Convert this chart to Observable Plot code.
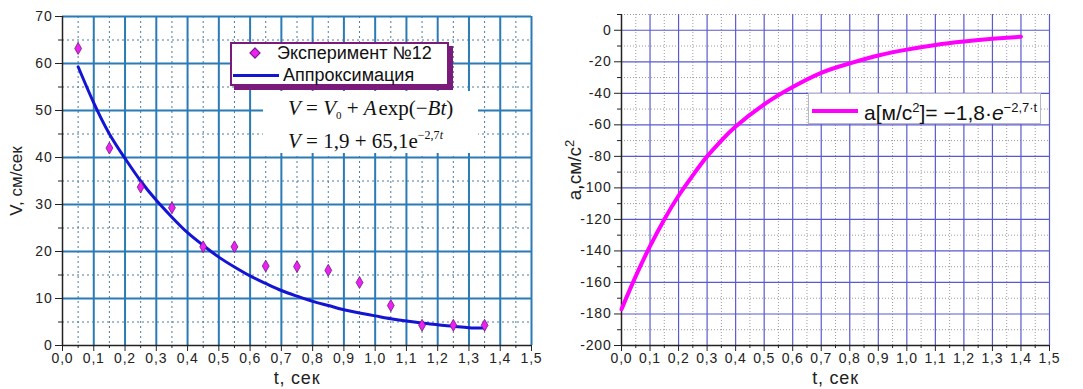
<!DOCTYPE html>
<html>
<head>
<meta charset="utf-8">
<script src="https://cdn.jsdelivr.net/npm/d3@7"></script>
<script src="https://cdn.jsdelivr.net/npm/@observablehq/plot@0.6"></script>
<style>
  html, body { margin: 0; padding: 0; background: #fff; }
  #wrap { position: relative; width: 1083px; height: 389px; display: flex; font-family: "Liberation Sans", Arial, sans-serif; }
  .ov { position: absolute; box-sizing: border-box; }
  #wrap svg text { letter-spacing: 0.8px; }
</style>
</head>
<body>
<div id="wrap">
  <div id="left"></div>
  <div id="right"></div>
</div>
<script>
// ---- Left chart data ----
const expT = [0.05, 0.15, 0.25, 0.35, 0.45, 0.55, 0.65, 0.75, 0.85, 0.95, 1.05, 1.15, 1.25, 1.35];
const expV = [63.2, 42.0, 33.7, 29.3, 21.0, 21.0, 16.9, 16.8, 16.0, 13.4, 8.5, 4.3, 4.3, 4.3];
const fitT = [0.05, 0.10, 0.15, 0.20, 0.25, 0.30, 0.35, 0.40, 0.45, 0.50, 0.55, 0.60, 0.65, 0.70, 0.75, 0.80, 0.85, 0.90, 0.95, 1.00, 1.05, 1.10, 1.15, 1.20, 1.25, 1.30, 1.35];
const fitV = [59.3, 51.6, 45.0, 39.8, 35.0, 30.9, 27.3, 24.0, 21.3, 18.8, 16.7, 14.8, 13.2, 11.7, 10.5, 9.4, 8.5, 7.6, 6.9, 6.3, 5.7, 5.2, 4.8, 4.4, 4.1, 3.8, 3.7];
const leftXMajor = [0, 0.1, 0.2, 0.3, 0.4, 0.5, 0.6, 0.7, 0.8, 0.9, 1.0, 1.1, 1.2, 1.3, 1.4, 1.5];
const leftXMinor = [0.05, 0.15, 0.25, 0.35, 0.45, 0.55, 0.65, 0.75, 0.85, 0.95, 1.05, 1.15, 1.25, 1.35, 1.45];
const leftYMajor = [0, 10, 20, 30, 40, 50, 60, 70];
const leftYMinor = [5, 15, 25, 35, 45, 55, 65];

// ---- Right chart data ----
const accT = [0.0, 0.05, 0.1, 0.15, 0.2, 0.25, 0.3, 0.35, 0.4, 0.5, 0.6, 0.7, 0.8, 0.9, 1.0, 1.1, 1.2, 1.3, 1.4];
const accA = [-177, -156, -137, -120, -105, -92, -80, -70, -61, -47, -36, -27, -21, -16, -12.3, -9.3, -7.1, -5.4, -4.1];
const rightXMajor = leftXMajor;
const rightXMinor = leftXMinor;
const rightYMajor = [0, -20, -40, -60, -80, -100, -120, -140, -160, -180, -200];
const rightYMinor = [10, -10, -30, -50, -70, -90, -110, -130, -150, -170, -190];

const fmt1 = d => d.toFixed(1).replace(".", ",");
const FONT = "Liberation Sans, Arial, sans-serif";

const expData = expT.map((t, i) => ({t, v: expV[i]}));
const fitData = fitT.map((t, i) => ({t, v: fitV[i]}));
const accData = accT.map((t, i) => ({t, a: accA[i]}));

function tickLabelsX(values) {
  return Plot.text(values, {x: d => d, frameAnchor: "bottom", dy: 17, text: fmt1, fontSize: 14, fill: "#222"});
}
function tickLabelsY(values) {
  return Plot.text(values, {y: d => d, frameAnchor: "left", dx: -10, textAnchor: "end", text: d => String(d), fontSize: 14, fill: "#222"});
}

const left = Plot.plot({
  width: 545, height: 389,
  marginLeft: 62, marginRight: 14, marginTop: 16, marginBottom: 44,
  style: {fontFamily: FONT, fontSize: "14px", color: "#222", background: "transparent", overflow: "visible"},
  x: {domain: [0, 1.5]},
  y: {domain: [0, 70]},
  marks: [
    Plot.ruleX(leftXMinor, {stroke: "#3a6d94", strokeWidth: 1, strokeDasharray: "2,3", strokeOpacity: 0.9}),
    Plot.ruleY(leftYMinor, {stroke: "#3a6d94", strokeWidth: 1, strokeDasharray: "2,3", strokeOpacity: 0.9}),
    Plot.ruleX(leftXMajor.filter(d => d > 0), {stroke: "#2b7bb5", strokeWidth: 2}),
    Plot.ruleY(leftYMajor.filter(d => d > 0), {stroke: "#2b7bb5", strokeWidth: 2}),
    Plot.ruleX([0], {stroke: "#222", strokeWidth: 1.5}),
    Plot.ruleY([0], {stroke: "#222", strokeWidth: 1.5}),
    Plot.axisX({ticks: leftXMajor, text: null, tickSize: 6, label: null}),
    Plot.axisX({ticks: leftXMinor, text: null, tickSize: 3, label: null}),
    Plot.axisY({ticks: leftYMajor, text: null, tickSize: 7, label: null}),
    Plot.axisY({ticks: leftYMinor, text: null, tickSize: 4, label: null}),
    tickLabelsX(leftXMajor),
    tickLabelsY(leftYMajor),
    Plot.line(fitData, {x: "t", y: "v", stroke: "#1414d4", strokeWidth: 3, curve: "natural"}),
    Plot.dot(expData, {x: "t", y: "v", symbol: "diamond", r: 3.6, fill: "#ee22ee", stroke: "#6a1a8a", strokeWidth: 0.8}),
    Plot.text(["t, сек"], {frameAnchor: "bottom", dy: 38, fontSize: 18, fill: "#222"})
  ]
});

const right = Plot.plot({
  width: 538, height: 389,
  marginLeft: 76, marginRight: 34, marginTop: 14, marginBottom: 44,
  style: {fontFamily: FONT, fontSize: "14px", color: "#222", background: "transparent", overflow: "visible"},
  x: {domain: [0, 1.5]},
  y: {domain: [-200, 10]},
  marks: [
    Plot.ruleX(rightXMinor, {stroke: "#9a9aa8", strokeWidth: 1, strokeDasharray: "1,2"}),
    Plot.ruleY(rightYMinor, {stroke: "#9a9aa8", strokeWidth: 1, strokeDasharray: "1,2"}),
    Plot.ruleX(rightXMajor.filter(d => d > 0), {stroke: "#5a5ad0", strokeWidth: 1.2}),
    Plot.ruleY(rightYMajor.filter(d => d > -200), {stroke: "#5a5ad0", strokeWidth: 1.2}),
    Plot.ruleX([0], {stroke: "#222", strokeWidth: 1.5}),
    Plot.ruleY([-200], {stroke: "#222", strokeWidth: 1.5}),
    Plot.axisX({ticks: rightXMajor, text: null, tickSize: 6, label: null}),
    Plot.axisX({ticks: rightXMinor, text: null, tickSize: 3, label: null}),
    Plot.axisY({ticks: rightYMajor, text: null, tickSize: 7, label: null}),
    Plot.axisY({ticks: rightYMinor, text: null, tickSize: 4, label: null}),
    tickLabelsX(rightXMajor),
    tickLabelsY(rightYMajor),
    Plot.line(accData, {x: "t", y: "a", stroke: "#ff00ff", strokeWidth: 4, curve: "natural"}),
    Plot.text(["t, сек"], {frameAnchor: "bottom", dy: 38, fontSize: 18, fill: "#222"})
  ]
});

document.getElementById("left").appendChild(left);
document.getElementById("right").appendChild(right);

// ---- Overlays: legends, axis titles and formula ----
const wrap = document.getElementById("wrap");
function addDiv(style, html) {
  const d = document.createElement("div");
  d.className = "ov";
  Object.assign(d.style, style);
  if (html) d.innerHTML = html;
  wrap.appendChild(d);
  return d;
}
const SERIF = "Liberation Serif, Times New Roman, serif";
// y-axis titles
addDiv({left: "17px", top: "181px", fontSize: "17px", lineHeight: "20px", color: "#222", whiteSpace: "nowrap", transform: "translate(-50%,-50%) rotate(-90deg)"}, "V, см/сек");
addDiv({left: "575px", top: "170px", fontSize: "19px", lineHeight: "22px", color: "#222", whiteSpace: "nowrap", transform: "translate(-50%,-50%) rotate(-90deg)"}, "a,см/с<sup style='font-size:13px;line-height:0'>2</sup>");
// formula background
addDiv({left: "263px", top: "91px", width: "215px", height: "62px", background: "#fff"});
addDiv({left: "288px", top: "96px", fontFamily: SERIF, fontSize: "21px", lineHeight: "24px", color: "#111", whiteSpace: "nowrap"},
  "<i>V</i> = <i>V</i><span style='font-size:11px;vertical-align:-4px'>0</span> + <i>A</i>&#8202;exp(&minus;<i>Bt</i>)");
addDiv({left: "288px", top: "123px", fontFamily: SERIF, fontSize: "21px", lineHeight: "24px", color: "#111", whiteSpace: "nowrap"},
  "<i>V</i> = 1,9 + 65,1e<span style='font-size:12px;vertical-align:9px'>&minus;2,7<i>t</i></span>");
// left legend
addDiv({left: "230px", top: "42px", width: "219px", height: "44px", background: "#fff", border: "2px solid #7a1a7a", boxShadow: "4px 4px 0 #7a1a7a"});
addDiv({left: "233px", top: "74px", width: "46px", height: "3px", background: "#1414d4"});
addDiv({left: "251px", top: "49px", width: "8px", height: "8px", background: "#ee22ee", transform: "rotate(45deg)", border: "1px solid #6a1a8a"});
addDiv({left: "277px", top: "43px", fontSize: "18px", lineHeight: "20px", color: "#111", whiteSpace: "nowrap"}, "Эксперимент №12");
addDiv({left: "283px", top: "65px", fontSize: "18px", lineHeight: "20px", color: "#111", whiteSpace: "nowrap"}, "Аппроксимация");
// right legend
addDiv({left: "808px", top: "93px", width: "233px", height: "31px", background: "#fff", border: "1px solid #b8b8c8"});
addDiv({left: "812px", top: "109px", width: "46px", height: "4px", background: "#ff00ff"});
addDiv({left: "864px", top: "95px", fontSize: "21px", lineHeight: "26px", color: "#111", whiteSpace: "nowrap"},
  "a[м/с<sup style='font-size:13px'>2</sup>]= &minus;1,8&middot;<i>e</i><sup style='font-size:13px'>&minus;2,7&middot;t</sup>");
</script>
</body>
</html>
